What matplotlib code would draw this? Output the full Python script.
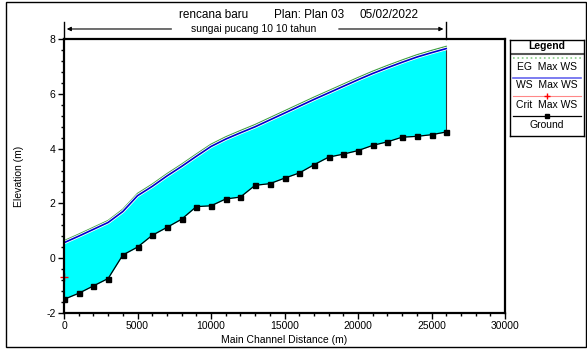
import matplotlib
matplotlib.use('Agg')
import matplotlib.pyplot as plt
from matplotlib.patches import Rectangle
from matplotlib.ticker import MultipleLocator
import matplotlib.transforms as mtransforms

plt.rcParams['font.family'] = ['Liberation Sans', 'DejaVu Sans']
plt.rcParams['axes.unicode_minus'] = False

# profile data (river station in m, elevations in m)
station = [0, 1000, 2000, 3000, 4000, 5000, 6000, 7000, 8000, 9000,
           10000, 11000, 12000, 13000, 14000, 15000, 16000, 17000, 18000,
           19000, 20000, 21000, 22000, 23000, 24000, 25000, 26000]
ground = [-1.51, -1.29, -1.02, -0.75, 0.11, 0.40, 0.83, 1.12, 1.42, 1.88,
          1.91, 2.16, 2.23, 2.66, 2.72, 2.92, 3.11, 3.41, 3.69,
          3.80, 3.93, 4.12, 4.25, 4.42, 4.45, 4.51, 4.61]
ws_max = [0.56, 0.80, 1.05, 1.30, 1.70, 2.28, 2.62, 3.00, 3.35, 3.72,
          4.08, 4.35, 4.58, 4.80, 5.05, 5.30, 5.55, 5.80, 6.04,
          6.28, 6.52, 6.75, 6.96, 7.16, 7.35, 7.51, 7.66]
eg_max = [0.63, 0.87, 1.12, 1.37, 1.78, 2.36, 2.70, 3.08, 3.43, 3.80,
          4.16, 4.43, 4.66, 4.88, 5.13, 5.38, 5.63, 5.88, 6.12,
          6.36, 6.60, 6.83, 7.04, 7.24, 7.43, 7.59, 7.74]
crit_station = [0]
crit_ws = [-0.68]

W, H = 587, 350
fig = plt.figure(figsize=(W / 100, H / 100), dpi=100)

# outer frame
fig.patches.append(Rectangle((6 / W, 3 / H), 580 / W, 345 / H, transform=fig.transFigure,
                             fill=False, edgecolor='black', linewidth=1.0))

ax = fig.add_axes([64 / W, 37.3 / H, 441 / W, 273.4 / H])
ax.fill_between(station, ground, ws_max, color='#00FFFF', linewidth=0)
ax.plot([station[-1], station[-1]], [ground[-1], ws_max[-1]], color='#333333', lw=0.8)
ax.plot(station, eg_max, color='#3C9E3C', lw=1.0)
ax.plot(station, ws_max, color='white', lw=2.4)
ax.plot(station, ws_max, color='#0000CC', lw=1.2)
ax.plot(station, ground, color='black', lw=0.9, marker='s', markersize=3.6)
ax.plot(crit_station, crit_ws, color='red', marker='+', markersize=6, lw=0, clip_on=False)

ax.set_xlim(0, 30000)
ax.set_ylim(-2, 8)
ax.xaxis.set_major_locator(MultipleLocator(5000))
ax.xaxis.set_minor_locator(MultipleLocator(1000))
ax.yaxis.set_major_locator(MultipleLocator(2))
ax.yaxis.set_minor_locator(MultipleLocator(0.4))
ax.tick_params(which='both', direction='out', labelsize=7.5, pad=2, width=1.0)
ax.tick_params(which='major', length=4)
ax.tick_params(which='minor', length=2.5)
for s in ax.spines.values():
    s.set_linewidth(1.6)
ax.set_xlabel('Main Channel Distance (m)', fontsize=7.5, labelpad=3)
ax.set_ylabel('Elevation (m)', fontsize=7.5, labelpad=16)

# header: title pieces
fig.text(179 / W, 1 - 15 / H, 'rencana baru', fontsize=8.5, va='center', ha='left')
fig.text(274 / W, 1 - 15 / H, 'Plan: Plan 03', fontsize=8.5, va='center', ha='left')
fig.text(360 / W, 1 - 15 / H, '05/02/2022', fontsize=8.5, va='center', ha='left')

# reach span arrows above the axes
trans = mtransforms.blended_transform_factory(ax.transData, ax.transAxes)
y_arr = 1.0377
ax.text(0.43, y_arr, 'sungai pucang 10 10 tahun', transform=ax.transAxes,
        fontsize=7.5, ha='center', va='center')
ax.annotate('', xy=(station[0], y_arr), xytext=(7500, y_arr), xycoords=trans, textcoords=trans,
            arrowprops=dict(arrowstyle='-|>', color='black', lw=0.8, mutation_scale=6), annotation_clip=False)
ax.annotate('', xy=(station[-1], y_arr), xytext=(18500, y_arr), xycoords=trans, textcoords=trans,
            arrowprops=dict(arrowstyle='-|>', color='black', lw=0.8, mutation_scale=6), annotation_clip=False)
for xs in (station[0], station[-1]):
    ax.plot([xs, xs], [1.0, 1.063], transform=trans, color='black', lw=1.0, clip_on=False)

# legend panel
lg = fig.add_axes([510 / W, 1 - 136 / H, 74 / W, 96 / H])
lg.set_xlim(0, 74)
lg.set_ylim(96, 0)
lg.set_xticks([])
lg.set_yticks([])
for s in lg.spines.values():
    s.set_linewidth(1.0)
lg.text(37, 6, 'Legend', fontsize=7.5, fontweight='bold', ha='center', va='center')
lg.plot([0, 74], [13.5, 13.5], color='#555555', lw=1.5)
lg.plot([3, 71], [18, 18], color='#88CC88', lw=1.2, ls=':')
lg.text(37, 27.5, 'EG  Max WS', fontsize=7.5, ha='center', va='center')
lg.plot([3, 71], [38, 38], color='#6666EE', lw=1.2)
lg.text(37, 45.5, 'WS  Max WS', fontsize=7.5, ha='center', va='center')
lg.plot([3, 71], [56, 56], color='#FF8888', lw=0.8)
lg.plot([37], [56], color='red', marker='+', markersize=4)
lg.text(37, 64.5, 'Crit  Max WS', fontsize=7.5, ha='center', va='center')
lg.plot([3, 71], [75.5, 75.5], color='black', lw=0.9)
lg.plot([37], [75.5], color='black', marker='s', markersize=3.5)
lg.text(37, 85, 'Ground', fontsize=7.5, ha='center', va='center')

fig.savefig('out.png', dpi=100)
